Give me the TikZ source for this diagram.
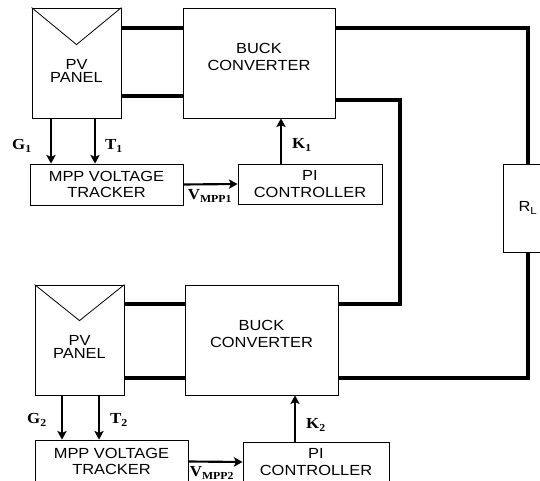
\documentclass[tikz,border=0pt]{standalone}
\usepackage{fontspec}
\setmainfont{Liberation Serif}[FakeStretch=1.1]
\setsansfont{Liberation Sans}[FakeStretch=1.12]
\usetikzlibrary{arrows.meta}
\tikzset{
  blk/.style={draw,line width=0.6pt,inner sep=0pt},
  txt/.style={font=\sffamily\fontsize{11}{12.5}\selectfont,align=center,inner sep=0pt},
  pw/.style={line width=2.4pt},
  sg/.style={line width=1.6pt,-{Stealth[length=6.5pt,width=7pt,inset=1.5pt]}},
  lb/.style={font=\fontsize{11.5}{13}\selectfont\bfseries,inner sep=0pt}
}
\newcommand{\sym}[2]{#1\textsubscript{#2}}

\begin{document}
\begin{tikzpicture}[x=0.75pt,y=-0.75pt]
\useasboundingbox (0,0) rectangle (540,481);
\clip (0,0) rectangle (540,481);
% upper string
\node[blk,minimum width=66.75pt,minimum height=82.5pt] (pv1) at (76.5,63) {};
\draw[line width=0.6pt] (pv1.north west) -- ([yshift=-27.75pt]pv1.north) -- (pv1.north east);
\node[txt,font=\sffamily\fontsize{11}{10}\selectfont] (pv1t) at ([yshift=-6pt]pv1.center) {PV\\PANEL};
\node[blk,minimum width=114pt,minimum height=82.5pt] (buck1) at (259,63) {};
\node[txt] (buck1t) at ([yshift=4.5pt]buck1.center) {BUCK\\CONVERTER};
\node[blk,txt,minimum width=114.75pt,minimum height=30.75pt] (mpp1) at (106.5,184.5) {MPP VOLTAGE\\TRACKER};
\node[blk,txt,minimum width=108pt,minimum height=30pt] (pi1) at (310,184) {PI\\CONTROLLER};
% load
\node[blk,minimum width=37.5pt,minimum height=66pt] (rl) at (528,208) {};
\node[txt] (rlt) at (rl.center) {\sym{R}{L}};
% lower string
\node[blk,minimum width=66.75pt,minimum height=82.5pt] (pv2) at (79.5,340) {};
\draw[line width=0.6pt] (pv2.north west) -- ([yshift=-27pt]pv2.north) -- (pv2.north east);
\node[txt,font=\sffamily\fontsize{11}{10}\selectfont] (pv2t) at ([yshift=-5.25pt]pv2.center) {PV\\PANEL};
\node[blk,minimum width=114.75pt,minimum height=82.5pt] (buck2) at (261.5,340) {};
\node[txt] (buck2t) at ([yshift=4.5pt]buck2.center) {BUCK\\CONVERTER};
\node[blk,txt,minimum width=114.75pt,minimum height=32.25pt] (mpp2) at (111.5,461.5) {MPP VOLTAGE\\TRACKER};
\node[blk,txt,minimum width=109.5pt,minimum height=30pt] (pi2) at (316,462) {PI\\CONTROLLER};
% power wiring
\coordinate (a1) at (0,28); \coordinate (b1) at (0,96);
\coordinate (a2) at (0,304); \coordinate (b2) at (0,378);
\coordinate (j1) at (400,100); \coordinate (j2) at (400,304);
\draw[pw] (pv1.east |- a1) -- (buck1.west |- a1);
\draw[pw] (pv1.east |- b1) -- (buck1.west |- b1);
\draw[pw] (pv2.east |- a2) -- (buck2.west |- a2);
\draw[pw] (pv2.east |- b2) -- (buck2.west |- b2);
\draw[pw] (buck1.east |- a1) -| (rl.north);
\draw[pw] (buck1.east |- j1) -- (j1) -- (j2) -- (buck2.east |- j2);
\draw[pw] (buck2.east |- b2) -| (rl.south);
% signals
\coordinate (g1) at (51,0); \coordinate (t1) at (95,0); \coordinate (k1) at (281,0);
\coordinate (g2) at (62,0); \coordinate (t2) at (99,0); \coordinate (k2) at (295,0);
\draw[sg] (pv1.south -| g1) -- (mpp1.north -| g1); \node[lb] (g1l) at (22,146) {\sym{G}{1}};
\draw[sg] (pv1.south -| t1) -- (mpp1.north -| t1); \node[lb] (t1l) at (114,146) {\sym{T}{1}};
\draw[sg] (pi1.north -| k1) -- (buck1.south -| k1); \node[lb] (k1l) at (302,145) {\sym{K}{1}};
\draw[sg] (mpp1.east) -- (pi1.west); \node[lb] (v1l) at (210,196) {\sym{V}{MPP1}};
\draw[sg] (pv2.south -| g2) -- (mpp2.north -| g2); \node[lb] (g2l) at (37,420) {\sym{G}{2}};
\draw[sg] (pv2.south -| t2) -- (mpp2.north -| t2); \node[lb] (t2l) at (119,420) {\sym{T}{2}};
\draw[sg] (pi2.north -| k2) -- (buck2.south -| k2); \node[lb] (k2l) at (316,425) {\sym{K}{2}};
\draw[sg] (mpp2.east) -- (pi2.west); \node[lb] (v2l) at (212,473) {\sym{V}{MPP2}};
\end{tikzpicture}
\end{document}
